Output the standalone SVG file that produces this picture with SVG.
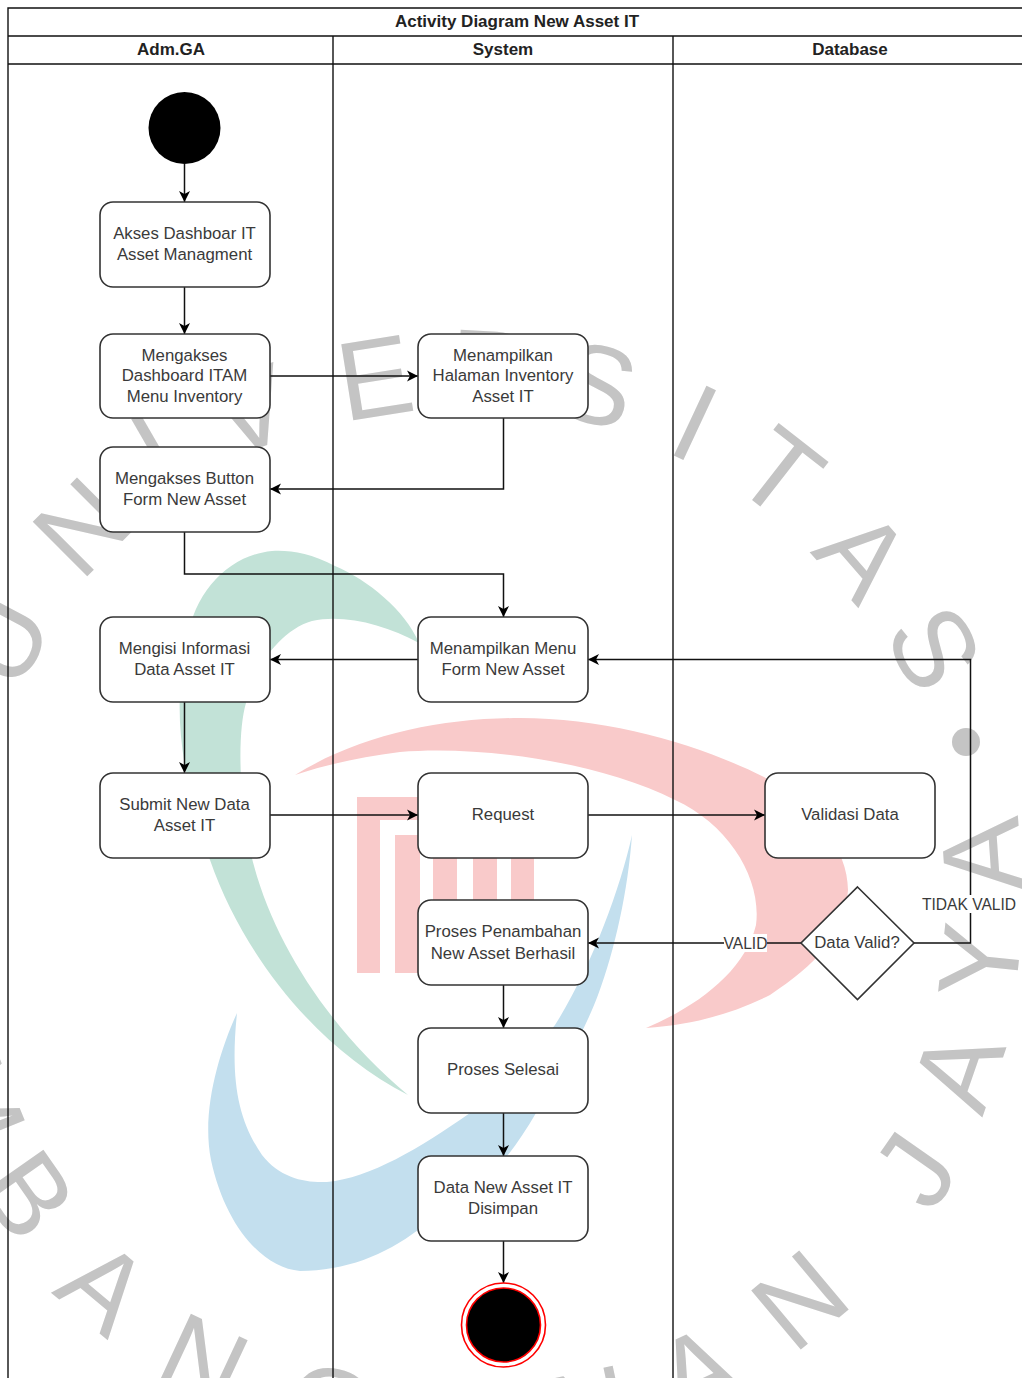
<svg xmlns="http://www.w3.org/2000/svg" width="1022" height="1378" viewBox="0 0 1022 1378">
<style>
text{font-family:"Liberation Sans",Arial,sans-serif}
.wm{font-size:112px;fill:#c4c4c4;text-anchor:middle;dominant-baseline:central}
.n{fill:#fff;stroke:#333;stroke-width:1.6}
.t{font-size:16.8px;fill:#3a3a3a;text-anchor:middle}
.lb{font-size:15.6px;fill:#3a3a3a;text-anchor:middle}
.h{font-size:17px;font-weight:bold;fill:#222;text-anchor:middle}
.l{fill:none;stroke:#111;stroke-width:1.4}
.c{fill:none;stroke:#111;stroke-width:1.5;marker-end:url(#a)}
</style>
<defs>
<marker id="a" markerUnits="userSpaceOnUse" markerWidth="13" markerHeight="13" refX="11.500" refY="6.500" orient="auto"><path d="M0.500 1L11.500 6.500L0.500 12L3.500 6.500Z" fill="#000"/></marker>
</defs>
<rect width="1022" height="1378" fill="#fff"/>
<g id="watermark">
<path fill="#c2e2d7" d="M419 643C405 610 368 580 335 566C310 553 290 550 272 551C230 555 195 590 187 640C172 710 180 770 210 860C245 960 320 1050 408 1095C330 1030 270 940 250 850C238 790 238 730 246 703C252 670 280 630 312 621C345 614 385 625 419 643Z"/>
<path fill="#f9caca" d="M295 775C360 735 440 718 520 718C610 718 700 745 764 777C815 805 848 850 848 890C845 935 815 965 770 995C730 1015 690 1025 646 1028C700 1005 745 970 756 925C762 880 730 825 675 800C600 762 480 745 400 752C360 757 325 765 295 775Z"/>
<path fill="#f9caca" d="M357 797H420V820H380V973H357ZM395 835H420V973H395ZM433 850H457V905H433ZM473 850H497V905H473ZM511 850H534V905H511Z"/>
<path fill="#c3dfee" d="M632 835C628 890 615 950 598 995C585 1030 560 1075 536 1113C500 1175 460 1210 418 1230C385 1255 345 1271 300 1271C262 1268 225 1225 211 1160C201 1110 220 1050 237 1013C230 1080 238 1120 262 1155C280 1178 305 1183 327 1182C370 1178 420 1148 470 1113C510 1080 535 1050 555 1025C590 970 620 890 632 835Z"/>
<text class="wm" transform="translate(2 640) rotate(-62)">U</text>
<text class="wm" transform="translate(82 527) rotate(-45)">N</text>
<text class="wm" transform="translate(155 450) rotate(-30)">I</text>
<text class="wm" transform="translate(250 410) rotate(-18)">V</text>
<text class="wm" transform="translate(375 378) rotate(-9)">E</text>
<text class="wm" transform="translate(490 370) rotate(3)">R</text>
<text class="wm" transform="translate(597 385) rotate(15)">S</text>
<text class="wm" transform="translate(695 423) rotate(25)">I</text>
<text class="wm" transform="translate(780 473) rotate(38)">T</text>
<text class="wm" transform="translate(863 555) rotate(49)">A</text>
<text class="wm" transform="translate(934 648) rotate(62)">S</text>
<circle cx="966" cy="742" r="14" fill="#c4c4c4"/>
<text class="wm" transform="translate(982 855) rotate(-94)">A</text>
<text class="wm" transform="translate(980 961) rotate(-84)">Y</text>
<text class="wm" transform="translate(958 1070) rotate(-71)">A</text>
<text class="wm" transform="translate(915 1170) rotate(-55)">J</text>
<text class="wm" transform="translate(800 1300) rotate(-40)">N</text>
<text class="wm" transform="translate(697 1372) rotate(-25)">A</text>
<text class="wm" transform="translate(590 1410) rotate(-12)">N</text>
<text class="wm" transform="translate(330 1408) rotate(12)">G</text>
<text class="wm" transform="translate(203 1362) rotate(25)">N</text>
<text class="wm" transform="translate(104 1287) rotate(40)">A</text>
<text class="wm" transform="translate(28 1195) rotate(55)">B</text>
<text class="wm" transform="translate(-25 1100) rotate(68)">M</text>
</g>
<g id="swimlanes">
<path class="l" d="M8 1378V8H1022M8 36H1022M8 64H1022M333 36V1378M673 36V1378"/>
<text class="h" x="517" y="27">Activity Diagram New Asset IT</text>
<text class="h" x="171" y="55">Adm.GA</text>
<text class="h" x="503" y="55">System</text>
<text class="h" x="850" y="55">Database</text>
</g>
<g id="connectors">
<path class="c" d="M184.500 164V202"/>
<path class="c" d="M184.500 287V334"/>
<path class="c" d="M270 376H418"/>
<path class="c" d="M503.500 418V489H270"/>
<path class="c" d="M184.500 532V574H503.500V617"/>
<path class="c" d="M418 659.500H270"/>
<path class="c" d="M914 943H970.500V659.500H588"/>
<path class="c" d="M184.500 702V773"/>
<path class="c" d="M270 815H418"/>
<path class="c" d="M588 815H765"/>
<path class="c" d="M801 943H588"/>
<path class="c" d="M503.500 985V1028"/>
<path class="c" d="M503.500 1113V1156"/>
<path class="c" d="M503.500 1241V1283"/>
<rect x="724" y="934" width="43" height="18" fill="#fff"/>
<text class="lb" x="745.500" y="949">VALID</text>
<rect x="922" y="895" width="95" height="18" fill="#fff"/>
<text class="lb" x="969" y="910">TIDAK VALID</text>
</g>
<g id="start"><circle cx="184.500" cy="128" r="36" fill="#000"/></g>
<g id="akses"><rect class="n" x="100" y="202" width="170" height="85" rx="13"/><text class="t" x="184.500" y="239">Akses Dashboar IT</text><text class="t" x="184.500" y="260">Asset Managment</text></g>
<g id="dashboard"><rect class="n" x="100" y="334" width="170" height="84" rx="13"/><text class="t" x="184.500" y="361">Mengakses</text><text class="t" x="184.500" y="381">Dashboard ITAM</text><text class="t" x="184.500" y="402">Menu Inventory</text></g>
<g id="button"><rect class="n" x="100" y="447" width="170" height="85" rx="13"/><text class="t" x="184.500" y="484">Mengakses Button</text><text class="t" x="184.500" y="505">Form New Asset</text></g>
<g id="isi"><rect class="n" x="100" y="617" width="170" height="85" rx="13"/><text class="t" x="184.500" y="654">Mengisi Informasi</text><text class="t" x="184.500" y="675">Data Asset IT</text></g>
<g id="submit"><rect class="n" x="100" y="773" width="170" height="85" rx="13"/><text class="t" x="184.500" y="810">Submit New Data</text><text class="t" x="184.500" y="831">Asset IT</text></g>
<g id="halaman"><rect class="n" x="418" y="334" width="170" height="84" rx="13"/><text class="t" x="503" y="361">Menampilkan</text><text class="t" x="503" y="381">Halaman Inventory</text><text class="t" x="503" y="402">Asset IT</text></g>
<g id="menu"><rect class="n" x="418" y="617" width="170" height="85" rx="13"/><text class="t" x="503" y="654">Menampilkan Menu</text><text class="t" x="503" y="675">Form New Asset</text></g>
<g id="request"><rect class="n" x="418" y="773" width="170" height="85" rx="13"/><text class="t" x="503" y="820">Request</text></g>
<g id="proses"><rect class="n" x="418" y="900" width="170" height="85" rx="13"/><text class="t" x="503" y="937">Proses Penambahan</text><text class="t" x="503" y="959">New Asset Berhasil</text></g>
<g id="selesai"><rect class="n" x="418" y="1028" width="170" height="85" rx="13"/><text class="t" x="503" y="1075">Proses Selesai</text></g>
<g id="disimpan"><rect class="n" x="418" y="1156" width="170" height="85" rx="13"/><text class="t" x="503" y="1193">Data New Asset IT</text><text class="t" x="503" y="1214">Disimpan</text></g>
<g id="validasi"><rect class="n" x="765" y="773" width="170" height="85" rx="13"/><text class="t" x="850" y="820">Validasi Data</text></g>
<g id="decision"><path class="n" d="M857.500 887L914 943L857.500 999.500L801 943Z"/><text class="t" x="857" y="948">Data Valid?</text></g>
<g id="end"><circle cx="503.500" cy="1325" r="42" fill="#fff" stroke="#f00" stroke-width="1.600"/><circle cx="503.500" cy="1325" r="37" fill="#000" stroke="#f00" stroke-width="1.600"/></g>
</svg>
